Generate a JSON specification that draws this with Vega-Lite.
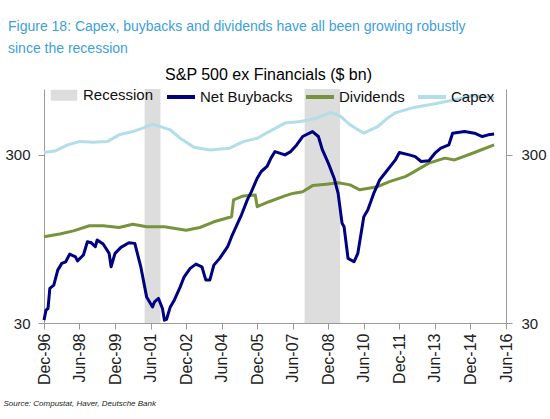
{
  "$schema": "https://vega.github.io/schema/vega-lite/v6.json",
  "width": 462,
  "height": 234,
  "autosize": {"type": "none"},
  "padding": {"left": 44, "top": 89, "right": 44, "bottom": 96},
  "background": "white",
  "title": {
    "text": ["Figure 18: Capex, buybacks and dividends have all been growing robustly", "since the recession"],
    "anchor": "start",
    "frame": "group",
    "dx": -36,
    "fontSize": 14,
    "font": "Liberation Sans",
    "fontWeight": "normal",
    "color": "#3D9FDB",
    "lineHeight": 22,
    "offset": 10
  },
  "config": {
    "view": {"stroke": null},
    "font": "Liberation Sans",
    "axis": {
      "grid": false,
      "domainColor": "#9a9a9a",
      "tickColor": "#9a9a9a",
      "tickSize": 6,
      "labelColor": "#222222",
      "labelFont": "Liberation Sans",
      "labelFontSize": 15,
      "labelFlush": false,
      "labelOverlap": false
    },
    "legend": {
      "orient": "none", "legendX": 4, "legendY": -10, "direction": "horizontal",
      "padding": 0,
      "symbolType": "stroke", "symbolSize": 784, "symbolStrokeWidth": 4,
      "labelFontSize": 15, "labelFont": "Liberation Sans", "labelColor": "#111111",
      "labelOffset": 3, "columnPadding": 5
    }
  },
  "resolve": {"axis": {"x": "independent", "y": "independent"}},
  "layer": [
    {
      "data": {"values": [
        {"series": "Recession", "start": "2001-03-01", "end": "2001-11-01"},
        {"series": "Recession", "start": "2007-12-01", "end": "2009-06-01"}
      ]},
      "mark": {"type": "rect"},
      "encoding": {
        "x": {
          "field": "start", "type": "temporal",
          "scale": {"type": "utc", "domain": [{"year": 1996, "month": 12, "date": 1, "utc": true}, {"year": 2016, "month": 6, "date": 1, "utc": true}]},
          "axis": {
            "orient": "top", "labels": false, "ticks": false, "domain": false,
            "title": "S&P 500 ex Financials ($ bn)",
            "titleFontSize": 16, "titleFontWeight": "normal", "titleColor": "#000000",
            "titleFont": "Liberation Sans",
            "titleX": 224, "titleY": -10, "titleBaseline": "alphabetic"
          }
        },
        "x2": {"field": "end"},
        "y": {
          "datum": 740, "type": "quantitative",
          "scale": {"type": "log", "domain": [30, 740], "nice": false},
          "axis": {"orient": "right", "title": null, "values": [30, 300], "format": "d", "labelPadding": 9}
        },
        "y2": {"datum": 30},
        "color": {
          "field": "series", "type": "nominal",
          "scale": {"domain": ["Recession", "Net Buybacks", "Dividends", "Capex"], "range": ["#DDDDDD", "#000080", "#77933C", "#B3DDE8"]},
          "legend": {
            "title": null,
            "encode": {"symbols": {"update": {
              "shape": {"signal": "datum.value === 'Recession' ? 'M-0.8,-0.25H0.8V0.25H-0.8Z' : 'stroke'"},
              "stroke": {"signal": "datum.value === 'Recession' ? 'transparent' : scale('color', datum.value)"},
              "fill": {"signal": "datum.value === 'Recession' ? '#DDDDDD' : 'transparent'"},
              "strokeWidth": {"value": 4}
            }}}
          }
        }
      }
    },
    {
      "data": {"values": [
        {"series": "Capex", "date": "1996-12-01", "value": 310},
        {"series": "Capex", "date": "1997-06-01", "value": 318},
        {"series": "Capex", "date": "1997-12-01", "value": 344},
        {"series": "Capex", "date": "1998-06-01", "value": 360},
        {"series": "Capex", "date": "1999-01-01", "value": 357},
        {"series": "Capex", "date": "1999-08-01", "value": 360},
        {"series": "Capex", "date": "2000-02-01", "value": 395},
        {"series": "Capex", "date": "2000-09-01", "value": 413},
        {"series": "Capex", "date": "2001-02-01", "value": 433},
        {"series": "Capex", "date": "2001-07-01", "value": 457},
        {"series": "Capex", "date": "2001-11-01", "value": 442},
        {"series": "Capex", "date": "2002-04-01", "value": 423},
        {"series": "Capex", "date": "2002-09-01", "value": 377},
        {"series": "Capex", "date": "2003-04-01", "value": 333},
        {"series": "Capex", "date": "2003-12-01", "value": 321},
        {"series": "Capex", "date": "2004-10-01", "value": 329},
        {"series": "Capex", "date": "2005-05-01", "value": 360},
        {"series": "Capex", "date": "2005-12-01", "value": 377},
        {"series": "Capex", "date": "2006-06-01", "value": 413},
        {"series": "Capex", "date": "2007-02-01", "value": 464},
        {"series": "Capex", "date": "2007-10-01", "value": 474},
        {"series": "Capex", "date": "2008-06-01", "value": 496},
        {"series": "Capex", "date": "2009-01-01", "value": 536},
        {"series": "Capex", "date": "2009-06-01", "value": 512},
        {"series": "Capex", "date": "2009-11-01", "value": 453},
        {"series": "Capex", "date": "2010-06-01", "value": 404},
        {"series": "Capex", "date": "2011-01-01", "value": 442},
        {"series": "Capex", "date": "2011-06-01", "value": 496},
        {"series": "Capex", "date": "2011-10-01", "value": 534},
        {"series": "Capex", "date": "2012-03-01", "value": 556},
        {"series": "Capex", "date": "2012-08-01", "value": 577},
        {"series": "Capex", "date": "2013-06-01", "value": 604},
        {"series": "Capex", "date": "2014-04-01", "value": 638},
        {"series": "Capex", "date": "2015-01-01", "value": 674},
        {"series": "Capex", "date": "2015-06-01", "value": 668},
        {"series": "Capex", "date": "2015-12-01", "value": 653},
        {"series": "Dividends", "date": "1996-12-01", "value": 97.8},
        {"series": "Dividends", "date": "1997-08-01", "value": 101.5},
        {"series": "Dividends", "date": "1998-03-01", "value": 106},
        {"series": "Dividends", "date": "1998-11-01", "value": 113.7},
        {"series": "Dividends", "date": "1999-06-01", "value": 113.7},
        {"series": "Dividends", "date": "2000-02-01", "value": 111},
        {"series": "Dividends", "date": "2000-09-01", "value": 116},
        {"series": "Dividends", "date": "2001-04-01", "value": 112},
        {"series": "Dividends", "date": "2002-01-01", "value": 112},
        {"series": "Dividends", "date": "2002-12-01", "value": 107},
        {"series": "Dividends", "date": "2003-07-01", "value": 111},
        {"series": "Dividends", "date": "2004-02-01", "value": 120},
        {"series": "Dividends", "date": "2004-11-01", "value": 128.7},
        {"series": "Dividends", "date": "2004-12-01", "value": 162},
        {"series": "Dividends", "date": "2005-05-01", "value": 171},
        {"series": "Dividends", "date": "2005-11-01", "value": 173},
        {"series": "Dividends", "date": "2005-12-01", "value": 147.6},
        {"series": "Dividends", "date": "2006-06-01", "value": 158},
        {"series": "Dividends", "date": "2007-02-01", "value": 171},
        {"series": "Dividends", "date": "2007-06-01", "value": 177},
        {"series": "Dividends", "date": "2007-11-01", "value": 181},
        {"series": "Dividends", "date": "2008-04-01", "value": 197},
        {"series": "Dividends", "date": "2008-11-01", "value": 201},
        {"series": "Dividends", "date": "2009-05-01", "value": 205},
        {"series": "Dividends", "date": "2009-11-01", "value": 199},
        {"series": "Dividends", "date": "2010-04-01", "value": 186},
        {"series": "Dividends", "date": "2011-01-01", "value": 194},
        {"series": "Dividends", "date": "2011-07-01", "value": 208},
        {"series": "Dividends", "date": "2012-03-01", "value": 223},
        {"series": "Dividends", "date": "2012-06-01", "value": 233},
        {"series": "Dividends", "date": "2013-03-01", "value": 268},
        {"series": "Dividends", "date": "2013-11-01", "value": 287},
        {"series": "Dividends", "date": "2014-04-01", "value": 280},
        {"series": "Dividends", "date": "2015-02-01", "value": 310},
        {"series": "Dividends", "date": "2015-12-01", "value": 344},
        {"series": "Net Buybacks", "date": "1996-12-01", "value": 31.2},
        {"series": "Net Buybacks", "date": "1997-01-01", "value": 35.8},
        {"series": "Net Buybacks", "date": "1997-02-01", "value": 36.6},
        {"series": "Net Buybacks", "date": "1997-03-01", "value": 48.2},
        {"series": "Net Buybacks", "date": "1997-05-01", "value": 50.4},
        {"series": "Net Buybacks", "date": "1997-07-01", "value": 61.9},
        {"series": "Net Buybacks", "date": "1997-09-01", "value": 67.9},
        {"series": "Net Buybacks", "date": "1997-11-01", "value": 69.4},
        {"series": "Net Buybacks", "date": "1998-01-01", "value": 77.1},
        {"series": "Net Buybacks", "date": "1998-04-01", "value": 74.3},
        {"series": "Net Buybacks", "date": "1998-05-01", "value": 70.3},
        {"series": "Net Buybacks", "date": "1998-08-01", "value": 76.1},
        {"series": "Net Buybacks", "date": "1998-10-01", "value": 91.3},
        {"series": "Net Buybacks", "date": "1998-12-01", "value": 90},
        {"series": "Net Buybacks", "date": "1999-02-01", "value": 85.3},
        {"series": "Net Buybacks", "date": "1999-03-01", "value": 93.5},
        {"series": "Net Buybacks", "date": "1999-06-01", "value": 88.5},
        {"series": "Net Buybacks", "date": "1999-09-01", "value": 77.9},
        {"series": "Net Buybacks", "date": "1999-10-01", "value": 64.8},
        {"series": "Net Buybacks", "date": "1999-12-01", "value": 77.9},
        {"series": "Net Buybacks", "date": "2000-03-01", "value": 84.5},
        {"series": "Net Buybacks", "date": "2000-07-01", "value": 90},
        {"series": "Net Buybacks", "date": "2000-10-01", "value": 89.3},
        {"series": "Net Buybacks", "date": "2001-01-01", "value": 64.8},
        {"series": "Net Buybacks", "date": "2001-04-01", "value": 42.9},
        {"series": "Net Buybacks", "date": "2001-07-01", "value": 37.4},
        {"series": "Net Buybacks", "date": "2001-08-01", "value": 40.1},
        {"series": "Net Buybacks", "date": "2001-10-01", "value": 42},
        {"series": "Net Buybacks", "date": "2001-12-01", "value": 36.6},
        {"series": "Net Buybacks", "date": "2002-01-01", "value": 31.2},
        {"series": "Net Buybacks", "date": "2002-02-01", "value": 31.5},
        {"series": "Net Buybacks", "date": "2002-04-01", "value": 37.4},
        {"series": "Net Buybacks", "date": "2002-06-01", "value": 41},
        {"series": "Net Buybacks", "date": "2002-09-01", "value": 49.2},
        {"series": "Net Buybacks", "date": "2002-11-01", "value": 56.5},
        {"series": "Net Buybacks", "date": "2003-02-01", "value": 63.4},
        {"series": "Net Buybacks", "date": "2003-05-01", "value": 67.2},
        {"series": "Net Buybacks", "date": "2003-08-01", "value": 64.8},
        {"series": "Net Buybacks", "date": "2003-10-01", "value": 54},
        {"series": "Net Buybacks", "date": "2003-12-01", "value": 54},
        {"series": "Net Buybacks", "date": "2004-02-01", "value": 66.3},
        {"series": "Net Buybacks", "date": "2004-05-01", "value": 72.7},
        {"series": "Net Buybacks", "date": "2004-09-01", "value": 85.3},
        {"series": "Net Buybacks", "date": "2004-11-01", "value": 97.8},
        {"series": "Net Buybacks", "date": "2005-02-01", "value": 117.5},
        {"series": "Net Buybacks", "date": "2005-04-01", "value": 131.7},
        {"series": "Net Buybacks", "date": "2005-07-01", "value": 162},
        {"series": "Net Buybacks", "date": "2005-09-01", "value": 181},
        {"series": "Net Buybacks", "date": "2005-12-01", "value": 218},
        {"series": "Net Buybacks", "date": "2006-02-01", "value": 239},
        {"series": "Net Buybacks", "date": "2006-05-01", "value": 256},
        {"series": "Net Buybacks", "date": "2006-07-01", "value": 287},
        {"series": "Net Buybacks", "date": "2006-09-01", "value": 314},
        {"series": "Net Buybacks", "date": "2007-02-01", "value": 300},
        {"series": "Net Buybacks", "date": "2007-05-01", "value": 314},
        {"series": "Net Buybacks", "date": "2007-08-01", "value": 344},
        {"series": "Net Buybacks", "date": "2007-11-01", "value": 386},
        {"series": "Net Buybacks", "date": "2008-04-01", "value": 413},
        {"series": "Net Buybacks", "date": "2008-07-01", "value": 386},
        {"series": "Net Buybacks", "date": "2008-09-01", "value": 321},
        {"series": "Net Buybacks", "date": "2008-12-01", "value": 268},
        {"series": "Net Buybacks", "date": "2009-03-01", "value": 218},
        {"series": "Net Buybacks", "date": "2009-05-01", "value": 177},
        {"series": "Net Buybacks", "date": "2009-07-01", "value": 117.5},
        {"series": "Net Buybacks", "date": "2009-08-01", "value": 112},
        {"series": "Net Buybacks", "date": "2009-10-01", "value": 72.7},
        {"series": "Net Buybacks", "date": "2010-01-01", "value": 69.4},
        {"series": "Net Buybacks", "date": "2010-03-01", "value": 77.9},
        {"series": "Net Buybacks", "date": "2010-06-01", "value": 128.7},
        {"series": "Net Buybacks", "date": "2010-08-01", "value": 141},
        {"series": "Net Buybacks", "date": "2010-11-01", "value": 177},
        {"series": "Net Buybacks", "date": "2011-02-01", "value": 213},
        {"series": "Net Buybacks", "date": "2011-06-01", "value": 244},
        {"series": "Net Buybacks", "date": "2011-10-01", "value": 280},
        {"series": "Net Buybacks", "date": "2011-12-01", "value": 310},
        {"series": "Net Buybacks", "date": "2012-05-01", "value": 300},
        {"series": "Net Buybacks", "date": "2012-08-01", "value": 293},
        {"series": "Net Buybacks", "date": "2012-11-01", "value": 274},
        {"series": "Net Buybacks", "date": "2013-03-01", "value": 277},
        {"series": "Net Buybacks", "date": "2013-06-01", "value": 307},
        {"series": "Net Buybacks", "date": "2013-09-01", "value": 329},
        {"series": "Net Buybacks", "date": "2014-01-01", "value": 344},
        {"series": "Net Buybacks", "date": "2014-03-01", "value": 404},
        {"series": "Net Buybacks", "date": "2014-09-01", "value": 413},
        {"series": "Net Buybacks", "date": "2015-02-01", "value": 404},
        {"series": "Net Buybacks", "date": "2015-06-01", "value": 386},
        {"series": "Net Buybacks", "date": "2015-09-01", "value": 395},
        {"series": "Net Buybacks", "date": "2015-12-01", "value": 399}
      ]},
      "mark": {"type": "line", "strokeWidth": 3, "strokeJoin": "round"},
      "encoding": {
        "x": {
          "field": "date", "type": "temporal",
          "scale": {"type": "utc", "domain": [{"year": 1996, "month": 12, "date": 1, "utc": true}, {"year": 2016, "month": 6, "date": 1, "utc": true}]},
          "axis": {
            "orient": "bottom",
            "values": [
              {"year": 1996, "month": 12, "date": 1, "utc": true},
              {"year": 1998, "month": 6, "date": 1, "utc": true},
              {"year": 1999, "month": 12, "date": 1, "utc": true},
              {"year": 2001, "month": 6, "date": 1, "utc": true},
              {"year": 2002, "month": 12, "date": 1, "utc": true},
              {"year": 2004, "month": 6, "date": 1, "utc": true},
              {"year": 2005, "month": 12, "date": 1, "utc": true},
              {"year": 2007, "month": 6, "date": 1, "utc": true},
              {"year": 2008, "month": 12, "date": 1, "utc": true},
              {"year": 2010, "month": 6, "date": 1, "utc": true},
              {"year": 2011, "month": 12, "date": 1, "utc": true},
              {"year": 2013, "month": 6, "date": 1, "utc": true},
              {"year": 2014, "month": 12, "date": 1, "utc": true},
              {"year": 2016, "month": 6, "date": 1, "utc": true}
            ],
            "format": "%b-%y",
            "labelAngle": -90,
            "labelPadding": 4,
            "labelFontSize": 16,
            "title": "Source: Compustat, Haver, Deutsche Bank",
            "titleFontSize": 8,
            "titleFontStyle": "italic",
            "titleFontWeight": "normal",
            "titleFont": "Liberation Sans",
            "titleColor": "#222222",
            "titleAnchor": "start",
            "titleAlign": "left",
            "titleBaseline": "alphabetic",
            "titleX": -41,
            "titleY": 82
          }
        },
        "y": {
          "field": "value", "type": "quantitative",
          "scale": {"type": "log", "domain": [30, 740], "nice": false},
          "axis": {"orient": "left", "title": null, "values": [30, 300], "format": "d", "labelPadding": 8}
        },
        "color": {
          "field": "series", "type": "nominal",
          "scale": {"domain": ["Recession", "Net Buybacks", "Dividends", "Capex"], "range": ["#DDDDDD", "#000080", "#77933C", "#B3DDE8"]},
          "legend": {
            "title": null,
            "encode": {"symbols": {"update": {
              "shape": {"signal": "datum.value === 'Recession' ? 'M-0.8,-0.25H0.8V0.25H-0.8Z' : 'stroke'"},
              "stroke": {"signal": "datum.value === 'Recession' ? 'transparent' : scale('color', datum.value)"},
              "fill": {"signal": "datum.value === 'Recession' ? '#DDDDDD' : 'transparent'"},
              "strokeWidth": {"value": 4}
            }}}
          }
        }
      }
    }
  ]
}
